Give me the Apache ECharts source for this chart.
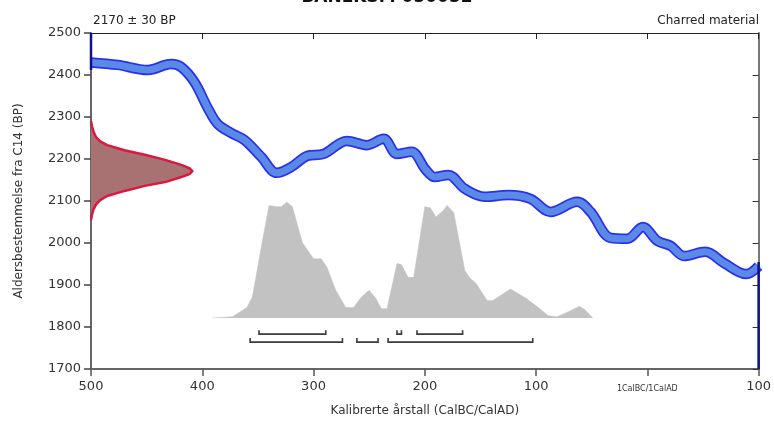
<!DOCTYPE html>
<html>
<head>
<meta charset="utf-8">
<script src="https://cdn.jsdelivr.net/npm/echarts@6/dist/echarts.min.js"></script>
<style>
html, body { margin: 0; padding: 0; background: #fff; }
#myChart { width: 774px; height: 423px; }
</style>
</head>
<body>
<div id="myChart"></div>
<script>
// kalibreringskurve, senterlinje (år: negativ = BC)
const curveYears = [-500, -476, -449, -428, -419, -407, -395, -386, -374, -362, -347, -333, -320, -306, -291, -270, -252, -237, -225, -212, -199, -191, -179, -164, -146, -125, -105, -87, -63, -51, -33, -18, -4, 9, 21, 33, 52, 69, 89, 100];
const curveBP = [2430, 2424, 2412, 2426, 2419, 2383, 2321, 2283, 2262, 2245, 2205, 2167, 2181, 2207, 2212, 2243, 2233, 2248, 2212, 2217, 2174, 2157, 2162, 2129, 2110, 2114, 2105, 2074, 2098, 2074, 2012, 2010, 2038, 2005, 1993, 1969, 1979, 1952, 1926, 1945];

// målt C14-alder 2170 ± 30 BP (relativ sannsynlighet)
const measBP = [2290, 2278, 2265, 2252, 2242, 2233, 2221, 2210, 2198, 2186, 2178, 2171, 2164, 2157, 2145, 2136, 2124, 2112, 2102, 2092, 2080, 2068, 2055];
const measDensity = [0, 0.01, 0.025, 0.05, 0.09, 0.16, 0.33, 0.53, 0.73, 0.89, 0.97, 1.0, 0.97, 0.89, 0.73, 0.53, 0.33, 0.16, 0.09, 0.05, 0.025, 0.01, 0];

// kalibrert sannsynlighetsfordeling
const probYears = [-391, -373, -360, -355, -347, -340, -333, -329, -324, -319, -310, -300, -293, -288, -280, -271, -264, -257, -250, -244, -239, -234, -225, -221, -215, -210, -200, -195, -190, -183, -180, -174, -164, -159, -154, -144, -139, -123, -109, -98, -89, -81, -72, -61, -56, -49];
const probHeight = [0, 0.01, 0.09, 0.18, 0.61, 0.97, 0.96, 0.96, 1.0, 0.96, 0.65, 0.51, 0.51, 0.44, 0.24, 0.09, 0.09, 0.18, 0.24, 0.17, 0.08, 0.08, 0.47, 0.46, 0.35, 0.35, 0.96, 0.95, 0.87, 0.93, 0.97, 0.91, 0.41, 0.34, 0.30, 0.15, 0.15, 0.25, 0.17, 0.09, 0.02, 0.01, 0.05, 0.10, 0.07, 0];

// intervaller [fra, til]
const range68 = [[-349, -289], [-225, -221], [-207, -166]];
const range95 = [[-357, -274], [-261, -242], [-233, -103]];

let myChart = echarts.init(document.getElementById('myChart'));
const font = 'DejaVu Sans';

const curveData = curveYears.map((y, i) => [y, curveBP[i]]);
const probData = probYears.map((y, i) => [y, probHeight[i]]);

// brakett for intervallene
function bracketSeries (ranges, level) {
  return {
    type: 'custom',
    silent: true,
    clip: false,
    z: 5,
    data: ranges.map(r => [r[0], r[1], level]),
    encode: { x: [0, 1], y: 2 },
    renderItem (params, api) {
      const a = api.coord([api.value(0), api.value(2)]);
      const b = api.coord([api.value(1), api.value(2)]);
      return {
        type: 'polyline',
        shape: { points: [[a[0], a[1] - 4], a, b, [b[0], b[1] - 4]] },
        style: { stroke: '#3a3a3a', lineWidth: 1.6, fill: null }
      };
    }
  };
}

let option = {
  animation: false,
  backgroundColor: '#fff',
  textStyle: { fontFamily: font },
  title: [
    {
      text: 'BANEKSM 050052',
      left: 'center',
      top: -16,
      textStyle: { fontFamily: font, fontSize: 17, fontWeight: 'bold', color: '#111' }
    },
    {
      text: '2170 ± 30 BP',
      left: 88,
      top: 10,
      textStyle: { fontFamily: font, fontSize: 12, fontWeight: 'normal', color: '#222' }
    },
    {
      text: 'Charred material',
      right: 10,
      top: 10,
      textStyle: { fontFamily: font, fontSize: 12, fontWeight: 'normal', color: '#222' }
    }
  ],
  grid: { left: 91, right: 12, top: 33, bottom: 54 },
  xAxis: [
    {
      type: 'value',
      position: 'bottom',
      min: -500,
      max: 100,
      interval: 100,
      name: 'Kalibrerte årstall (CalBC/CalAD)',
      nameLocation: 'middle',
      nameGap: 36,
      nameTextStyle: { fontFamily: font, fontSize: 12, color: '#333' },
      axisLine: { show: true, onZero: false, lineStyle: { color: '#666', width: 2 } },
      axisTick: { show: true, length: 7, lineStyle: { color: '#555', width: 1.5 } },
      splitLine: { show: false },
      axisLabel: {
        margin: 11,
        fontFamily: font,
        fontSize: 13,
        color: '#333',
        formatter (v) {
          if (v === 0) return '{s|1CalBC/1CalAD}';
          return String(Math.abs(v));
        },
        rich: { s: { fontFamily: font, fontSize: 8, color: '#333', padding: [5, 0, 0, 0] } }
      }
    },
    {
      // tetthet for målt alder
      type: 'value',
      position: 'bottom',
      show: false,
      min: 0,
      max: 6.58
    },
    {
      type: 'value',
      position: 'top',
      min: -500,
      max: 100,
      interval: 100,
      axisLine: { show: true, onZero: false, lineStyle: { color: '#222', width: 1 } },
      axisTick: { show: true, inside: true, length: 6, lineStyle: { color: '#222', width: 1 } },
      axisLabel: { show: false },
      splitLine: { show: false }
    }
  ],
  yAxis: [
    {
      type: 'value',
      position: 'left',
      min: 1700,
      max: 2500,
      interval: 100,
      name: 'Aldersbestemmelse fra C14 (BP)',
      nameLocation: 'middle',
      nameGap: 66,
      nameTextStyle: { fontFamily: font, fontSize: 12, color: '#333' },
      axisLine: { show: true, onZero: false, lineStyle: { color: '#666', width: 2 } },
      axisTick: { show: true, length: 7, lineStyle: { color: '#444', width: 1.5 } },
      axisLabel: { margin: 10, fontFamily: font, fontSize: 13, color: '#333', formatter: v => String(v) },
      splitLine: { show: false }
    },
    {
      // relativ sannsynlighet
      type: 'value',
      position: 'left',
      show: false,
      min: -0.44,
      max: 2.457
    },
    {
      type: 'value',
      position: 'right',
      min: 1700,
      max: 2500,
      interval: 100,
      axisLine: { show: true, onZero: false, lineStyle: { color: '#777', width: 2 } },
      axisTick: { show: true, inside: true, length: 6, lineStyle: { color: '#333', width: 1 } },
      axisLabel: { show: false },
      splitLine: { show: false }
    }
  ],
  series: [
    {
      // kalibrert fordeling
      type: 'line',
      xAxisIndex: 0,
      yAxisIndex: 1,
      data: probData,
      showSymbol: false,
      lineStyle: { width: 0.5, color: '#c4c4c4' },
      areaStyle: { color: '#c2c2c2', opacity: 1 },
      silent: true,
      z: 1
    },
    {
      // målt alder
      type: 'custom',
      xAxisIndex: 1,
      yAxisIndex: 0,
      silent: true,
      clip: false,
      z: 1,
      data: [[0, 2170]],
      renderItem (params, api) {
        const pts = measBP.map((bp, i) => api.coord([measDensity[i], bp]));
        return {
          type: 'group',
          children: [
            { type: 'polygon', shape: { points: pts }, style: { fill: '#a87272', stroke: null } },
            { type: 'polyline', shape: { points: pts }, style: { stroke: '#dc1840', lineWidth: 2.5, fill: null, lineJoin: 'round' } }
          ]
        };
      }
    },
    {
      // kurve, ytterkant
      type: 'line',
      data: curveData,
      showSymbol: false,
      smooth: 0.35,
      lineStyle: { width: 10.5, color: '#2a30f0', cap: 'butt', join: 'round' },
      silent: true,
      z: 3
    },
    {
      // kurve, fyll
      type: 'line',
      data: curveData,
      showSymbol: false,
      smooth: 0.35,
      lineStyle: { width: 7, color: '#5b8ae6', cap: 'butt', join: 'round' },
      silent: true,
      z: 4
    },
    {
      type: 'line',
      data: [[-500, 2500], [-500, 2412]],
      showSymbol: false,
      lineStyle: { width: 2.5, color: '#10108a' },
      silent: true,
      z: 6
    },
    {
      type: 'line',
      data: [[100, 1955], [100, 1700]],
      showSymbol: false,
      lineStyle: { width: 2.5, color: '#10108a' },
      silent: true,
      z: 6
    },
    bracketSeries(range68, 1783),
    bracketSeries(range95, 1764)
  ]
};
myChart.setOption(option);
</script>
</body>
</html>
